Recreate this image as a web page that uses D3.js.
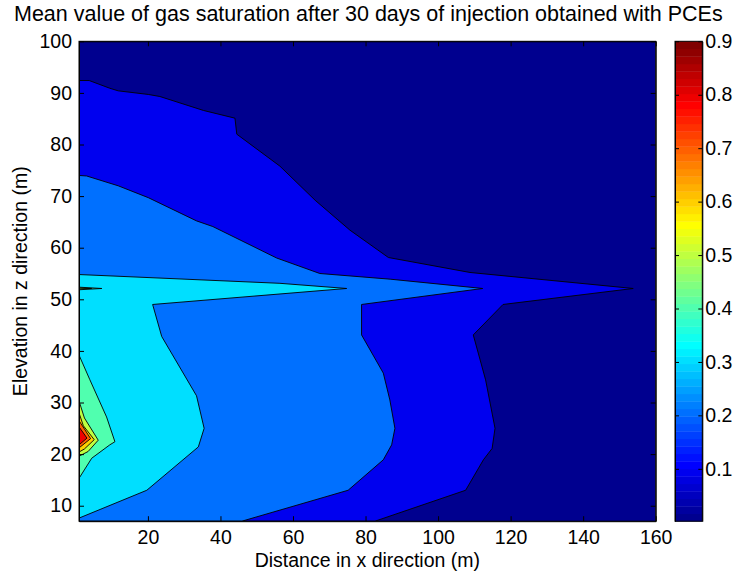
<!DOCTYPE html>
<html><head><meta charset="utf-8">
<script src="https://cdn.jsdelivr.net/npm/d3@7"></script>
<style>
body{margin:0;background:#fff}
svg{display:block}
text{font-family:"Liberation Sans",Arial,Helvetica,sans-serif;fill:#000}
</style>
</head><body>
<svg id="c" width="739" height="577"></svg>
<script>
// ---- data (x in m, z in m) ----
const xDomain = [1, 160];
const yDomain = [7, 100];
const xTicks = [20, 40, 60, 80, 100, 120, 140, 160];
const yTicks = [10, 20, 30, 40, 50, 60, 70, 80, 90, 100];
const cTicks = [0.1, 0.2, 0.3, 0.4, 0.5, 0.6, 0.7, 0.8, 0.9];
const cRange = [0.002, 0.9];
const levels = [0.1, 0.2, 0.3, 0.4, 0.4, 0.5, 0.5, 0.6, 0.7, 0.8];

// superlevel regions (area where saturation >= level), outlined by contour lines
const region01 = [[1,92.4],[3.8,92.4],[9.5,90.9],[11.8,90.4],[20.1,89.7],[23.3,89.3],[35.3,86.6],[44,85.1],[44.5,82],[56.4,75.8],[66.1,69.2],[75.7,63.4],[86.3,58.1],[108.8,55.2],[153.8,52.1],[117.9,49.0],[109.7,43.1],[113.1,34.4],[115.7,25.0],[114.9,21.1],[112.5,18.9],[107.6,13.0],[82.6,7],[1,7]];
const region02 = [[1,74.0],[3.1,73.9],[11.8,72.0],[20.1,69.7],[33.4,65.2],[37.9,64.1],[55.5,58.0],[67.4,55.0],[86.8,53.9],[112.3,52.1],[78.9,49.0],[78.9,43.1],[84.9,35.7],[86.7,30.5],[88.1,25],[87.2,21.8],[84.9,18.9],[75.2,13.0],[45.9,7],[1,7]];
const region03 = [[1,54.8],[56.4,53.1],[74.8,52.1],[21.3,49.0],[23.8,42.8],[33.4,31.3],[35.5,25.0],[33.9,21.4],[19.7,13.0],[1,7.6]];
const region04 = [[1,39.2],[4,34.4],[8.6,27.2],[10.9,22.4],[9.5,21.8],[4.5,19.2],[1,15.3]];
const region04b = [[1,52.35],[7.3,52.1],[1,51.85]];
const region05 = [[1,30.3],[2.5,27],[6.3,22.7],[3.5,20.5],[1,19.6]];
const region05b = [[1,52.2],[4.5,52.1],[1,52.0]];
const region06 = [[1,28],[2.2,25.5],[5.2,22.8],[2.5,21],[1,20.4]];
const region07 = [[1,26.5],[4.2,23],[1,21.2]];
const region08 = [[1,25.3],[3.2,23.1],[1,21.8]];
const regions = [region01, region02, region03, region04, region04b, region05, region05b, region06, region07, region08];

// ---- jet(64) colormap ----
const clamp = v => Math.max(0, Math.min(1, v));
const jet = d3.range(1, 65).map(k => {
  const r = clamp(Math.min((k - 24) / 16, (72 - k) / 16));
  const g = clamp(Math.min((k - 8) / 16, (56 - k) / 16));
  const b = clamp(Math.min((k + 8) / 16, (40 - k) / 16));
  return d3.rgb(r * 255, g * 255, b * 255).formatHex();
});
const colorOf = v => jet[Math.max(0, Math.min(63, Math.floor((v - cRange[0]) / (cRange[1] - cRange[0]) * 64)))];

// ---- layout ----
const svg = d3.select("#c");
const L = 79, R = 655.7, T = 41.3, B = 521.2;
const x = d3.scaleLinear(xDomain, [L, R]);
const y = d3.scaleLinear(yDomain, [B, T]);

svg.append("defs").append("clipPath").attr("id", "pa")
  .append("rect").attr("x", L).attr("y", T).attr("width", R - L).attr("height", B - T);

const plot = svg.append("g").attr("clip-path", "url(#pa)");
plot.append("rect").attr("x", L).attr("y", T).attr("width", R - L).attr("height", B - T)
  .attr("fill", colorOf(cRange[0]));

const line = d3.line().x(d => x(d[0])).y(d => y(d[1]));
regions.forEach((reg, i) => {
  plot.append("path").attr("d", line(reg) + "Z")
    .attr("fill", colorOf(levels[i]))
    .attr("stroke", "#000").attr("stroke-width", 0.9).attr("stroke-linejoin", "miter");
});

// ---- axes ----
const fs = 19.5;
function styleAxis(g) {
  g.selectAll("path.domain").attr("stroke", "#000").attr("stroke-width", 1);
  g.selectAll(".tick line").attr("stroke", "#000");
  g.selectAll("text").attr("font-size", fs).attr("font-family", null);
}
svg.append("g").attr("transform", `translate(0,${B})`)
  .call(d3.axisBottom(x).tickValues(xTicks).tickSize(-5).tickSizeOuter(0).tickPadding(9))
  .call(styleAxis);
svg.append("g").attr("transform", `translate(0,${T})`)
  .call(d3.axisTop(x).tickValues(xTicks).tickSize(-5).tickSizeOuter(0).tickFormat(() => ""))
  .call(styleAxis);
svg.append("g").attr("transform", `translate(${L},0)`)
  .call(d3.axisLeft(y).tickValues(yTicks).tickSize(-5).tickSizeOuter(0).tickPadding(7))
  .call(styleAxis);
svg.append("g").attr("transform", `translate(${R},0)`)
  .call(d3.axisRight(y).tickValues(yTicks).tickSize(-5).tickSizeOuter(0).tickFormat(() => ""))
  .call(styleAxis);

// ---- colorbar ----
const CL = 675, CR = 702.3;
const cy = d3.scaleLinear(cRange, [B, T]);
const step = (cRange[1] - cRange[0]) / 64;
svg.append("g").selectAll("rect").data(jet).join("rect")
  .attr("x", CL).attr("width", CR - CL)
  .attr("y", (d, i) => cy(cRange[0] + (i + 1) * step))
  .attr("height", (d, i) => cy(cRange[0] + i * step) - cy(cRange[0] + (i + 1) * step) + 0.4)
  .attr("fill", d => d);
svg.append("rect").attr("x", CL).attr("y", T).attr("width", CR - CL).attr("height", B - T)
  .attr("fill", "none").attr("stroke", "#000").attr("stroke-width", 1);
svg.append("g").attr("transform", `translate(${CL},0)`)
  .call(d3.axisLeft(cy).tickValues(cTicks).tickSize(-4).tickSizeOuter(0).tickFormat(() => ""))
  .call(styleAxis);
svg.append("g").attr("transform", `translate(${CR},0)`)
  .call(d3.axisRight(cy).tickValues(cTicks).tickSize(-4).tickSizeOuter(0).tickPadding(3).tickFormat(d3.format(".1f")))
  .call(styleAxis);

// frame
svg.append("rect").attr("x", L).attr("y", T).attr("width", R - L).attr("height", B - T)
  .attr("fill", "none").attr("stroke", "#000").attr("stroke-width", 1);

// ---- texts ----
svg.append("text").attr("x", (L + R) / 2 + 1).attr("y", 21).attr("text-anchor", "middle")
  .attr("font-size", 21.5).text("Mean value of gas saturation after 30 days of injection obtained with PCEs");
svg.append("text").attr("x", (L + R) / 2).attr("y", 567).attr("text-anchor", "middle")
  .attr("font-size", fs).text("Distance in x direction (m)");
svg.append("text").attr("transform", `translate(27,${(T + B) / 2}) rotate(-90)`).attr("text-anchor", "middle")
  .attr("font-size", fs).text("Elevation in z direction (m)");
</script>
</body></html>
